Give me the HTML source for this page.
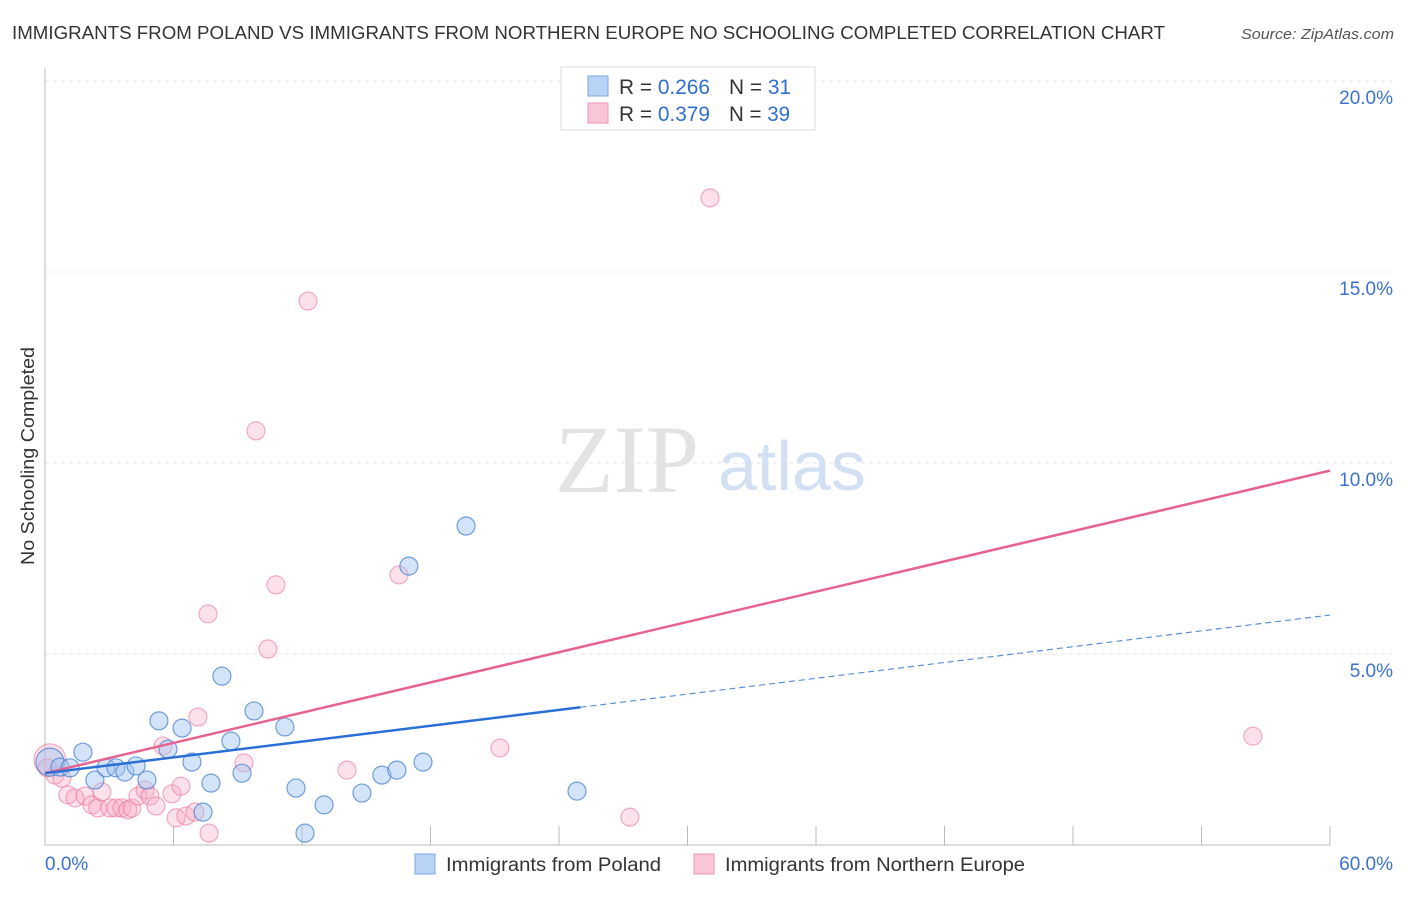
<!DOCTYPE html>
<html><head><meta charset="utf-8"><style>
body{margin:0;background:#fff;font-family:"Liberation Sans",sans-serif}
svg text{font-family:"Liberation Sans",sans-serif}
</style></head><body>
<svg id="chart" width="1406" height="892">
<text x="12" y="39" font-size="18" fill="#333" textLength="1153" lengthAdjust="spacingAndGlyphs">IMMIGRANTS FROM POLAND VS IMMIGRANTS FROM NORTHERN EUROPE NO SCHOOLING COMPLETED CORRELATION CHART</text>
<text x="1241" y="39" font-size="15" fill="#555" font-style="italic" textLength="153" lengthAdjust="spacingAndGlyphs">Source: ZipAtlas.com</text>
<text transform="translate(34,565) rotate(-90)" font-size="18" fill="#333" textLength="218" lengthAdjust="spacingAndGlyphs">No Schooling Completed</text>
<g id="grid"></g>
<text x="555" y="492" font-size="96" fill="#e3e3e3" style="font-family:'Liberation Serif',serif">ZIP</text>
<text x="718" y="490" font-size="70" fill="#d3e0f3">atlas</text>
<g id="marks"></g>
<g>
<rect x="561" y="67" width="254" height="63" fill="#fff" stroke="#ddd"/>
<rect x="588" y="76" width="20" height="20" fill="#b9d3f5" stroke="#7aa7e0"/>
<rect x="588" y="103" width="20" height="20" fill="#f9c6d6" stroke="#ee94b0"/>
<text x="619" y="94" font-size="21" fill="#333" textLength="91" lengthAdjust="spacingAndGlyphs">R = <tspan fill="#2f6fd0">0.266</tspan></text>
<text x="729" y="94" font-size="21" fill="#333" textLength="62" lengthAdjust="spacingAndGlyphs">N = <tspan fill="#2f6fd0"> 31</tspan></text>
<text x="619" y="121" font-size="21" fill="#333" textLength="91" lengthAdjust="spacingAndGlyphs">R = <tspan fill="#2f6fd0">0.379</tspan></text>
<text x="729" y="121" font-size="21" fill="#333" textLength="61" lengthAdjust="spacingAndGlyphs">N = <tspan fill="#2f6fd0">39</tspan></text>
</g>
<g>
<rect x="415" y="854" width="20" height="20" fill="#b9d3f5" stroke="#7aa7e0"/>
<text x="446" y="871" font-size="19" fill="#333" textLength="215" lengthAdjust="spacingAndGlyphs">Immigrants from Poland</text>
<rect x="694" y="854" width="20" height="20" fill="#f9c6d6" stroke="#ee94b0"/>
<text x="725" y="871" font-size="19" fill="#333" textLength="300" lengthAdjust="spacingAndGlyphs">Immigrants from Northern Europe</text>
</g>
</svg>
<script>
const xTicks=[0,60];
const yTicks=[5,10,15,20];
const blueX=[0.23,0.70,1.17,1.77,2.33,2.85,3.31,3.73,4.25,4.76,5.32,5.74,6.40,6.86,7.38,7.75,8.26,8.68,9.20,9.76,11.2,11.72,12.14,13.03,14.8,15.73,16.43,16.99,17.65,19.66,24.84];
const blueY=[2.17,2.04,2.02,2.43,1.70,2.02,2.02,1.91,2.07,1.70,3.25,2.51,3.06,2.17,0.86,1.62,4.42,2.72,1.88,3.51,3.09,1.49,0.31,1.05,1.36,1.83,1.96,7.30,2.17,8.35,1.41];
const pinkX=[0.23,0.47,0.79,1.07,1.40,1.87,2.19,2.47,2.66,3.03,3.31,3.59,3.87,4.06,4.34,4.67,4.90,5.18,5.51,5.93,6.12,6.35,6.58,7.0,7.14,7.61,7.66,9.29,9.85,10.41,10.78,12.28,14.1,16.53,21.24,27.31,31.05,56.4,0.1];
const pinkY=[2.23,1.83,1.75,1.31,1.23,1.28,1.05,0.97,1.39,0.97,0.97,0.97,0.92,0.97,1.28,1.44,1.28,1.02,2.59,1.34,0.71,1.54,0.76,0.86,3.35,6.05,0.31,2.15,10.84,5.13,6.81,14.24,1.96,7.07,2.54,0.73,16.94,2.85,2.02];
const blueTrend=[1.88,0.069];
const pinkTrend=[1.88,0.132];
const X=v=>45+v*(1285/60), Y=v=>845-v*38.2;
const NS='http://www.w3.org/2000/svg';
function mk(tag,attrs,parent){const e=document.createElementNS(NS,tag);for(const k in attrs)e.setAttribute(k,attrs[k]);parent.appendChild(e);return e;}
const grid=document.getElementById('grid'), marks=document.getElementById('marks');
yTicks.forEach(t=>{
 const l=mk('line',{x1:45,x2:1392,y1:Y(t),y2:Y(t),stroke:'#e4e4e4','stroke-dasharray':'4,4'},grid);
 
 
 const tx=mk('text',{x:1393,y:Y(t)+23,'font-size':19,fill:'#3a72d0','text-anchor':'end'},grid);
 tx.textContent=t.toFixed(1)+'%';
 
 
});
const ax=mk('line',{x1:45,x2:45,y1:68,y2:845,stroke:'#bbb'},grid);


const bx=mk('line',{x1:45,x2:1330,y1:845,y2:845,stroke:'#bbb'},grid);


for(let i=1;i<=10;i++){const v=i*6;const t=mk('line',{x1:X(v),x2:X(v),y1:826,y2:845,stroke:'#bbb'},grid);
 
 }
xTicks.forEach((t,i)=>{const tx=mk('text',{x:i?1393:45,y:870,'font-size':19,fill:'#3a72d0','text-anchor':i?'end':'start'},grid);
 tx.textContent=t.toFixed(1)+'%';
 
 });
pinkX.forEach((x,i)=>{const c=mk('circle',{cx:X(x),cy:Y(pinkY[i]),r:i===0?16:9,fill:'rgba(247,170,195,0.35)',stroke:'rgba(235,120,155,0.6)','stroke-width':1.2},marks);
 
 });
blueX.forEach((x,i)=>{const c=mk('circle',{cx:X(x),cy:Y(blueY[i]),r:i===0?14:9,fill:'rgba(160,195,240,0.45)',stroke:'rgba(70,130,210,0.75)','stroke-width':1.2},marks);
 
 });
const pl=mk('line',{x1:X(0),y1:Y(pinkTrend[0]),x2:X(60),y2:Y(pinkTrend[0]+pinkTrend[1]*60),stroke:'#e8628f','stroke-width':2.5},marks);


const bl=mk('line',{x1:X(0),y1:Y(blueTrend[0]),x2:X(25),y2:Y(blueTrend[0]+blueTrend[1]*25),stroke:'#2a6fd6','stroke-width':2.5},marks);


const bd=mk('line',{x1:X(25),y1:Y(blueTrend[0]+blueTrend[1]*25),x2:X(60),y2:Y(blueTrend[0]+blueTrend[1]*60),stroke:'#5a8fd8','stroke-width':1.2,'stroke-dasharray':'6,4'},marks);


</script>
</body></html>
